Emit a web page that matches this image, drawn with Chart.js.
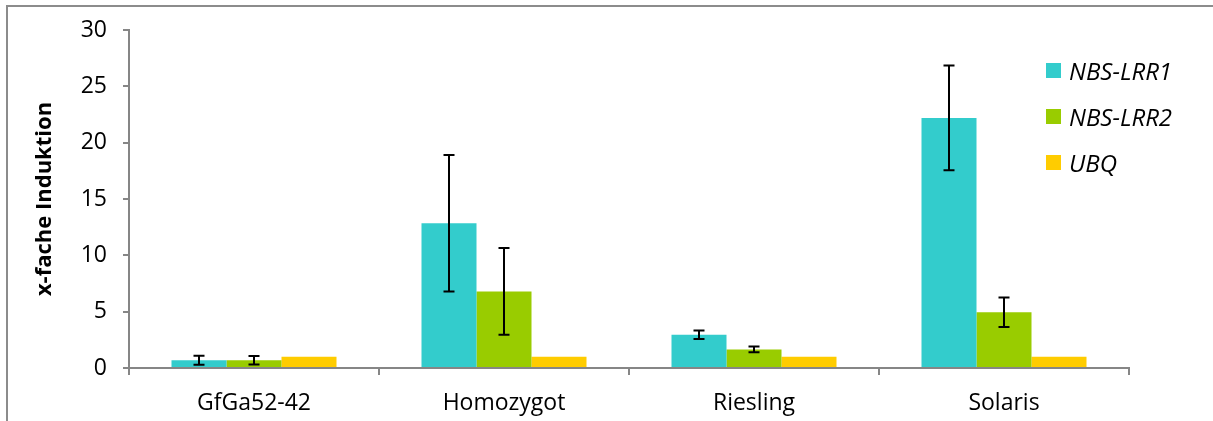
<!DOCTYPE html>
<html>
<head>
<meta charset="utf-8">
<script src="https://cdn.jsdelivr.net/npm/chart.js@4.4.1/dist/chart.umd.min.js"></script>
<style>
  html, body { margin: 0; padding: 0; background: #fff; }
  #wrap { position: relative; width: 1213px; height: 421px; overflow: hidden; }
  #frame {
    position: absolute; left: 6px; top: 5px; width: 1300px; height: 414px;
    border-top: 2px solid #8c8c8c; border-left: 2px solid #8c8c8c; border-bottom: 1px solid #ececec;
    pointer-events: none;
  }
  #legend { position: absolute; left: 1046px; top: 47px; font-family: "Open Sans", sans-serif; font-style: italic; font-size: 24px; color: #000; }
  #legend .item { display: flex; align-items: center; height: 46px; }
  #legend .box { width: 15px; height: 15px; margin-right: 8px; }
</style>
</head>
<body>
<div id="wrap">
  <canvas id="chart" width="1213" height="421"></canvas>
  <div id="frame"></div>
  <div id="legend"></div>
</div>
<script>
'use strict';

// data
const categories = ['GfGa52-42', 'Homozygot', 'Riesling', 'Solaris'];
const seriesNames = ['NBS-LRR1', 'NBS-LRR2', 'UBQ'];
const seriesColors = ['#33CCCC', '#99CC00', '#FFCC00'];
const nbsLrr1 = [0.68, 12.85, 2.95, 22.2];
const nbsLrr1Err = [0.4, 6.05, 0.38, 4.65];
const nbsLrr2 = [0.68, 6.8, 1.65, 4.95];
const nbsLrr2Err = [0.38, 3.85, 0.25, 1.3];
const ubq = [1, 1, 1, 1];
const ubqErr = [null, null, null, null];
const yTicks = [0, 5, 10, 15, 20, 25, 30];

const seriesValues = [nbsLrr1, nbsLrr2, ubq];
const seriesErrors = [nbsLrr1Err, nbsLrr2Err, ubqErr];

const axisColor = '#868686';
const tickFont = { family: '"Open Sans", sans-serif', size: 23 };

// error bars drawn from the scale
const errorBars = {
  id: 'errorBars',
  afterDatasetsDraw(c) {
    const ctx = c.ctx;
    const y = c.scales.y;
    ctx.save();
    ctx.strokeStyle = '#000';
    ctx.lineWidth = 2;
    c.data.datasets.forEach((ds, di) => {
      const meta = c.getDatasetMeta(di);
      ds.errors.forEach((e, i) => {
        if (e == null) return;
        const bar = meta.data[i];
        const v = ds.data[i];
        const yTop = y.getPixelForValue(v + e);
        const yBot = y.getPixelForValue(v - e);
        const x = Math.round(bar.x);
        ctx.beginPath();
        ctx.moveTo(x, yTop); ctx.lineTo(x, yBot);
        ctx.moveTo(x - 5.5, yTop); ctx.lineTo(x + 5.5, yTop);
        ctx.moveTo(x - 5.5, yBot); ctx.lineTo(x + 5.5, yBot);
        ctx.stroke();
      });
    });
    ctx.restore();
  }
};

const chart = new Chart(document.getElementById('chart').getContext('2d'), {
  type: 'bar',
  data: {
    labels: categories,
    datasets: seriesNames.map((name, i) => ({
      label: name,
      data: seriesValues[i],
      errors: seriesErrors[i],
      backgroundColor: seriesColors[i],
      borderWidth: 0,
      categoryPercentage: 0.66,
      barPercentage: 1.0
    }))
  },
  options: {
    responsive: false,
    animation: false,
    layout: { padding: { top: 30, right: 84, left: 0, bottom: 0 } },
    plugins: { legend: { display: false }, tooltip: { enabled: false } },
    scales: {
      x: {
        grid: { display: true, drawOnChartArea: false, drawTicks: true, tickLength: 7, color: axisColor, lineWidth: 2, offset: true },
        border: { color: axisColor, width: 2 },
        ticks: { color: '#000', font: tickFont, padding: 15, maxRotation: 0 },
        afterFit: (s) => { s.height = 53; }
      },
      y: {
        min: 0, max: 30,
        afterBuildTicks: (s) => { s.ticks = yTicks.map(v => ({ value: v })); },
        grid: { display: true, drawOnChartArea: false, drawTicks: true, tickLength: 6, color: axisColor, lineWidth: 2 },
        border: { color: axisColor, width: 2 },
        ticks: { color: '#000', font: tickFont, padding: 16 },
        title: {
          display: true, text: 'x-fache Induktion', color: '#000',
          font: { family: '"Open Sans", sans-serif', size: 22, weight: 'bold' },
          padding: { top: 32, bottom: 0 }
        },
        afterFit: (s) => { s.width = 129; }
      }
    }
  },
  plugins: [errorBars]
});

// legend as html text
const legend = document.getElementById('legend');
seriesNames.forEach((name, i) => {
  const item = document.createElement('div');
  item.className = 'item';
  item.innerHTML = `<span class="box" style="background:${seriesColors[i]}"></span><span>${name}</span>`;
  legend.appendChild(item);
});
</script>
</body>
</html>
